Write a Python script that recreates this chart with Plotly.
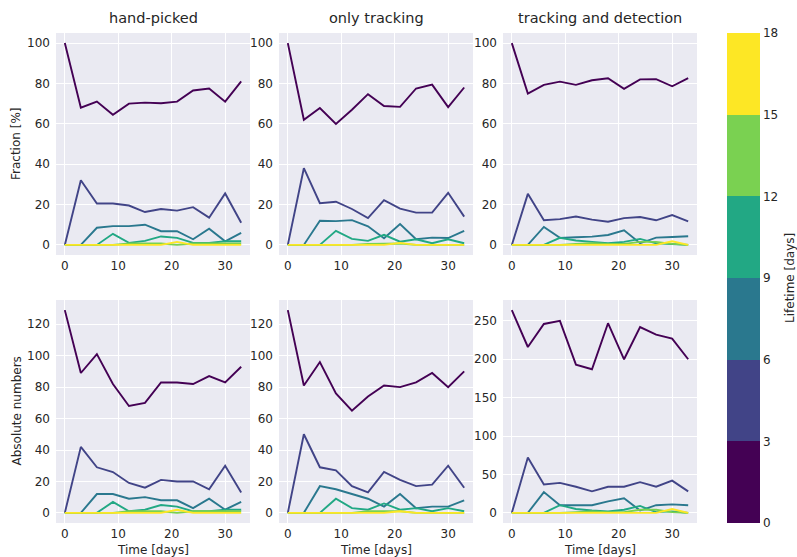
import plotly.graph_objects as go

W, H = 797, 557

time = [0, 3, 6, 9, 12, 15, 18, 21, 24, 27, 30, 33]
bin_edges = [0, 3, 6, 9, 12, 15, 18]
colors = ["#440154", "#414487", "#2a788e", "#22a884", "#7ad151", "#fde725"]
col_titles = ["hand-picked", "only tracking", "tracking and detection"]
row_titles = ["Fraction [%]", "Absolute numbers"]

# hand-picked, fraction
hp_f0 = [100, 68, 71, 64.5, 70, 70.5, 70.2, 71, 76.5, 77.5, 71, 81]
hp_f1 = [0, 32, 20.5, 20.5, 19.5, 16.3, 17.8, 17, 18.7, 13.5, 25.5, 11]
hp_f2 = [0, 0, 8.5, 9.3, 9.3, 10, 6.8, 6.8, 2.8, 8, 1.8, 6]
hp_f3 = [0, 0, 0, 5.5, 1, 2, 4.2, 3.5, 1, 1, 1.8, 1.8]
hp_f4 = [0, 0, 0, 0, 0.7, 0.7, 0.7, 0, 0.7, 0.7, 0.7, 0.7]
hp_f5 = [0, 0, 0, 0, 0, 0, 0, 1.5, 0, 0, 0, 0]
# hand-picked, absolute
hp_a0 = [129, 89, 101, 82, 68, 70, 83, 83, 82, 87, 83, 93]
hp_a1 = [0, 42, 29, 26, 19, 16, 21, 20, 20, 15, 30, 13]
hp_a2 = [0, 0, 12, 12, 9, 10, 8, 8, 3, 9, 2, 7]
hp_a3 = [0, 0, 0, 7, 1, 2, 5, 4, 1, 1, 2, 2]
hp_a4 = [0, 0, 0, 0, 1, 1, 1, 0, 1, 1, 1, 1]
hp_a5 = [0, 0, 0, 0, 0, 0, 0, 2, 0, 0, 0, 0]
# only tracking, fraction
ot_f0 = [100, 62, 67.8, 59.9, 67, 74.7, 68.8, 68.4, 77.5, 79.4, 68.3, 78]
ot_f1 = [0, 38, 20.7, 21.4, 17.8, 13.3, 22.2, 18, 16, 16, 25.8, 14]
ot_f2 = [0, 0, 12, 11.8, 12.3, 9.2, 3.3, 10.3, 2.8, 3.6, 3.4, 7]
ot_f3 = [0, 0, 0, 7, 3, 2, 5, 1.6, 2.8, 0.8, 2.8, 0.8]
ot_f4 = [0, 0, 0, 0, 0, 0.5, 0.7, 0.7, 0, 0, 0, 0]
ot_f5 = [0, 0, 0, 0, 0, 0, 0, 1, 0, 0, 0, 0]
# only tracking, absolute
ot_a0 = [129, 81, 96, 76, 65, 74, 81, 80, 83, 89, 80, 90]
ot_a1 = [0, 50, 29, 27, 17, 13, 26, 21, 17, 18, 30, 16]
ot_a2 = [0, 0, 17, 15, 12, 9, 4, 12, 3, 4, 4, 8]
ot_a3 = [0, 0, 0, 9, 3, 2, 6, 2, 3, 1, 3, 1]
ot_a4 = [0, 0, 0, 0, 0, 1, 1, 1, 0, 0, 0, 0]
ot_a5 = [0, 0, 0, 0, 0, 0, 0, 1, 0, 0, 0, 0]
# tracking and detection, fraction
td_f0 = [100, 75, 79.3, 80.9, 79.3, 81.6, 82.6, 77.3, 82, 82.1, 78.6, 82.6]
td_f1 = [0, 25.3, 12.2, 12.8, 14.1, 12.5, 11.5, 13.3, 13.8, 12.2, 14.8, 11.7]
td_f2 = [0, 0, 8.9, 3.5, 3.8, 4.1, 4.9, 7.2, 0.8, 3.6, 3.9, 4.3]
td_f3 = [0, 0, 0, 3.5, 2.2, 1.5, 0.8, 1.5, 3, 0.8, 0.5, 0]
td_f4 = [0, 0, 0, 0, 0.5, 0.8, 0.5, 0.5, 1.5, 1.5, 0.5, 0]
td_f5 = [0, 0, 0, 0, 0, 0, 0, 0, 0, 0, 1.8, 0]
# tracking and detection, absolute
td_a0 = [264, 216, 246, 250, 193, 187, 247, 200, 242, 232, 227, 200]
td_a1 = [0, 72, 37, 39, 34, 28, 34, 34, 40, 34, 42, 28]
td_a2 = [0, 0, 27, 10, 10, 10, 15, 19, 3, 10, 11, 10]
td_a3 = [0, 0, 0, 10, 5, 3, 2, 4, 9, 1, 2, 0]
td_a4 = [0, 0, 0, 0, 1, 2, 1, 1, 4, 4, 1, 0]
td_a5 = [0, 0, 0, 0, 0, 0, 0, 0, 0, 0, 5, 0]

panels = [
    [[hp_f0, hp_f1, hp_f2, hp_f3, hp_f4, hp_f5],
     [ot_f0, ot_f1, ot_f2, ot_f3, ot_f4, ot_f5],
     [td_f0, td_f1, td_f2, td_f3, td_f4, td_f5]],
    [[hp_a0, hp_a1, hp_a2, hp_a3, hp_a4, hp_a5],
     [ot_a0, ot_a1, ot_a2, ot_a3, ot_a4, ot_a5],
     [td_a0, td_a1, td_a2, td_a3, td_a4, td_a5]],
]

FONT = "DejaVu Sans"
TXT = "#262626"
BG = "#eaeaf2"
FS = 12

col_px = [(56, 250), (279, 473), (503, 697)]
row_px = [(33, 255), (300, 523)]

fig = go.Figure()
layout = dict(
    width=W, height=H, margin=dict(l=0, r=0, t=0, b=0),
    paper_bgcolor="white", plot_bgcolor=BG, showlegend=False,
    font=dict(family=FONT, color=TXT, size=FS),
)

def ymax_of(series):
    return max(max(s) for s in series)

k = 0
for r in range(2):
    for c in range(3):
        k += 1
        xa = "x" if k == 1 else f"x{k}"
        ya = "y" if k == 1 else f"y{k}"
        series = panels[r][c]
        for i, s in enumerate(series):
            fig.add_trace(go.Scatter(
                x=time, y=s, mode="lines", xaxis=xa, yaxis=ya,
                line=dict(color=colors[i], width=1.9), hoverinfo="skip"))
        x0, x1 = col_px[c]
        y0, y1 = row_px[r]
        tmin, tmax = min(time), max(time)
        xm = 0.05 * (tmax - tmin)
        ymx = ymax_of(series)
        ym = 0.05 * ymx
        if r == 0:
            dtick = 20
        elif c < 2:
            dtick = 20
        else:
            dtick = 50
        layout["xaxis" if k == 1 else f"xaxis{k}"] = dict(
            domain=[x0 / W, x1 / W], anchor=ya, range=[tmin - xm, tmax + xm],
            tickvals=[0, 10, 20, 30], showgrid=True, gridcolor="white", gridwidth=1,
            zeroline=False, showline=False, ticks="", ticklabelstandoff=2,
            tickfont=dict(size=FS, color=TXT),
        )
        layout["yaxis" if k == 1 else f"yaxis{k}"] = dict(
            domain=[1 - y1 / H, 1 - y0 / H], anchor=xa, range=[-ym, ymx + ym],
            dtick=dtick, tick0=0, showgrid=True, gridcolor="white", gridwidth=1,
            zeroline=False, showline=False, ticks="", ticklabelstandoff=5,
            tickfont=dict(size=FS, color=TXT),
        )

# colorbar via a dummy trace
cs = []
n = len(colors)
for i, col in enumerate(colors):
    cs.append([i / n, col])
    cs.append([(i + 1) / n, col])
cb_top, cb_bot = 33, 523
fig.add_trace(go.Scatter(
    x=[None], y=[None], mode="markers", hoverinfo="skip",
    marker=dict(color=[0], cmin=bin_edges[0], cmax=bin_edges[-1], colorscale=cs,
                showscale=True,
                colorbar=dict(
                    x=727 / W, xanchor="left", xpad=0, ypad=0,
                    y=1 - (cb_top + cb_bot) / 2 / H, yanchor="middle",
                    len=(cb_bot - cb_top) / H, lenmode="fraction",
                    thickness=33, thicknessmode="pixels", outlinewidth=0,
                    tickvals=bin_edges, ticks="", ticklen=3,
                    tickfont=dict(size=FS, color=TXT, family=FONT),
                ))))

annotations = []
for c, t in enumerate(col_titles):
    x0, x1 = col_px[c]
    annotations.append(dict(text=t, x=(x0 + x1) / 2 / W, y=1 - 18 / H,
                            xref="paper", yref="paper", showarrow=False,
                            xanchor="center", yanchor="middle",
                            font=dict(size=14.5, color=TXT, family=FONT)))
    annotations.append(dict(text="Time [days]", x=(x0 + x1) / 2 / W, y=1 - 549.5 / H,
                            xref="paper", yref="paper", showarrow=False,
                            xanchor="center", yanchor="middle",
                            font=dict(size=FS, color=TXT, family=FONT)))
for r, t in enumerate(row_titles):
    y0, y1 = row_px[r]
    annotations.append(dict(text=t, x=16 / W, y=1 - (y0 + y1) / 2 / H,
                            xref="paper", yref="paper", showarrow=False,
                            textangle=-90, xanchor="center", yanchor="middle",
                            font=dict(size=FS, color=TXT, family=FONT)))
annotations.append(dict(text="Lifetime [days]", x=790 / W, y=1 - (cb_top + cb_bot) / 2 / H,
                        xref="paper", yref="paper", showarrow=False,
                        textangle=-90, xanchor="center", yanchor="middle",
                        font=dict(size=FS, color=TXT, family=FONT)))
layout["annotations"] = annotations

fig.update_layout(**layout)
fig.write_html("out.html", config={"displayModeBar": False},
               post_script="document.body.style.margin='0';document.body.style.padding='0';")
